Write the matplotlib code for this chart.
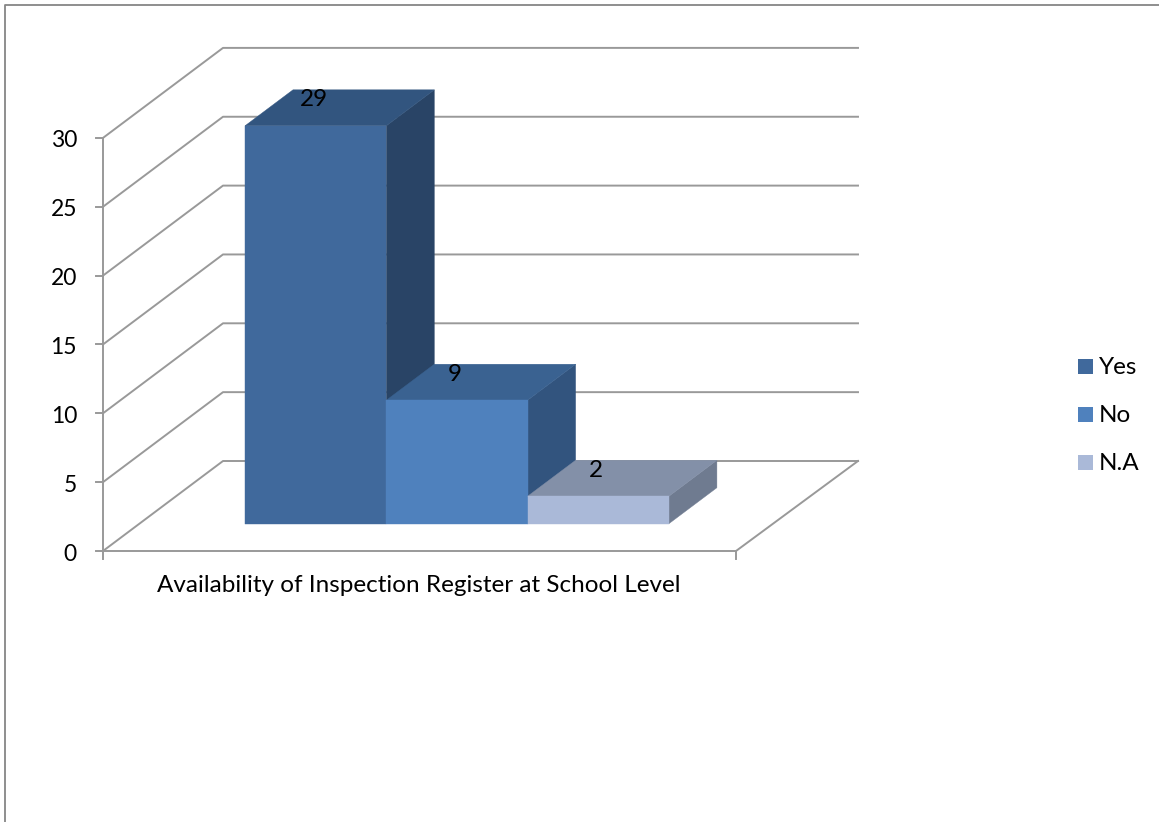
import matplotlib
matplotlib.use('Agg')
import matplotlib.pyplot as plt
from matplotlib.patches import Polygon, Rectangle

plt.rcParams['font.family'] = ['Lato', 'DejaVu Sans']

category = 'Availability of Inspection Register at School Level'
series = ['Yes', 'No', 'N.A']
values = [29, 9, 2]
y_ticks = [0, 5, 10, 15, 20, 25, 30]

front_colors = ['#40699C', '#4F81BD', '#AAB9D8']
top_colors = ['#32557F', '#3A6291', '#8390A8']
side_colors = ['#294466', '#32547E', '#6F7B90']

# chart layout in pixels
W, H = 1159, 822
x0, x1 = 103, 736
y0 = 551
unit = 13.77
bar_unit = 13.72
wall_dx, wall_dy = 120, -90
bar_left = 245
bar_w = 141.3
bar_base = 523.7
bar_dx, bar_dy = 48, -36
grid_color = '#999999'
text_size = 17.5
tick_size = 16.5


def y_px(v):
    return y0 - v * unit


fig = plt.figure(figsize=(W / 100, H / 100), dpi=100)
ax = fig.add_axes([0, 0, 1, 1])
ax.set_xlim(0, W)
ax.set_ylim(H, 0)
ax.axis('off')

# outer frame
ax.plot([5, 5, W], [H, 5, 5], color='#868686', lw=1.3)

# walls and gridlines
for t in y_ticks:
    y = y_px(t)
    ax.plot([x0, x0 + wall_dx, x1 + wall_dx + 2], [y, y + wall_dy, y + wall_dy],
            color=grid_color, lw=1.4, zorder=1)
    ax.plot([x0 - 7, x0], [y, y], color=grid_color, lw=1.4, zorder=1)
    ax.text(x0 - 26, y + 3, str(t), ha='right', va='center',
            fontsize=tick_size, color='black')

# axes
ax.plot([x0, x0], [y_px(y_ticks[-1]), y0], color=grid_color, lw=1.4, zorder=1)
ax.plot([x0, x1, x1 + wall_dx + 2], [y0, y0, y0 + wall_dy], color=grid_color, lw=1.4, zorder=1)
ax.plot([x0, x0], [y0, y0 + 8], color=grid_color, lw=1.4, zorder=1)
ax.plot([x1, x1], [y0, y0 + 8], color=grid_color, lw=1.4, zorder=1)

# 3d bars
for i, v in enumerate(values):
    l = bar_left + i * bar_w
    r = l + bar_w
    top = bar_base - v * bar_unit
    z = 2 + i
    ax.add_patch(Polygon([(r, top), (r + bar_dx, top + bar_dy),
                          (r + bar_dx, bar_base + bar_dy), (r, bar_base)],
                         fc=side_colors[i], ec=side_colors[i], lw=0.3, zorder=z))
    ax.add_patch(Polygon([(l, top), (r, top), (r + bar_dx, top + bar_dy),
                          (l + bar_dx, top + bar_dy)],
                         fc=top_colors[i], ec=top_colors[i], lw=0.3, zorder=z))
    ax.add_patch(Rectangle((l, top), bar_w, v * bar_unit, fc=front_colors[i],
                           ec=front_colors[i], lw=0.3, zorder=z))
    ax.text((l + r) / 2 - 2, top - 26, str(v), ha='center', va='center',
            fontsize=text_size, color='black', zorder=10)

ax.text(419, 585, category, ha='center', va='center', fontsize=text_size, color='black')

# legend
for i, name in enumerate(series):
    ly = 359 + i * 48
    ax.add_patch(Rectangle((1078, ly), 15, 15, fc=front_colors[i], ec='none'))
    ax.text(1099, ly + 8, name, ha='left', va='center', fontsize=text_size, color='black')

fig.savefig('out.png', dpi=100)
